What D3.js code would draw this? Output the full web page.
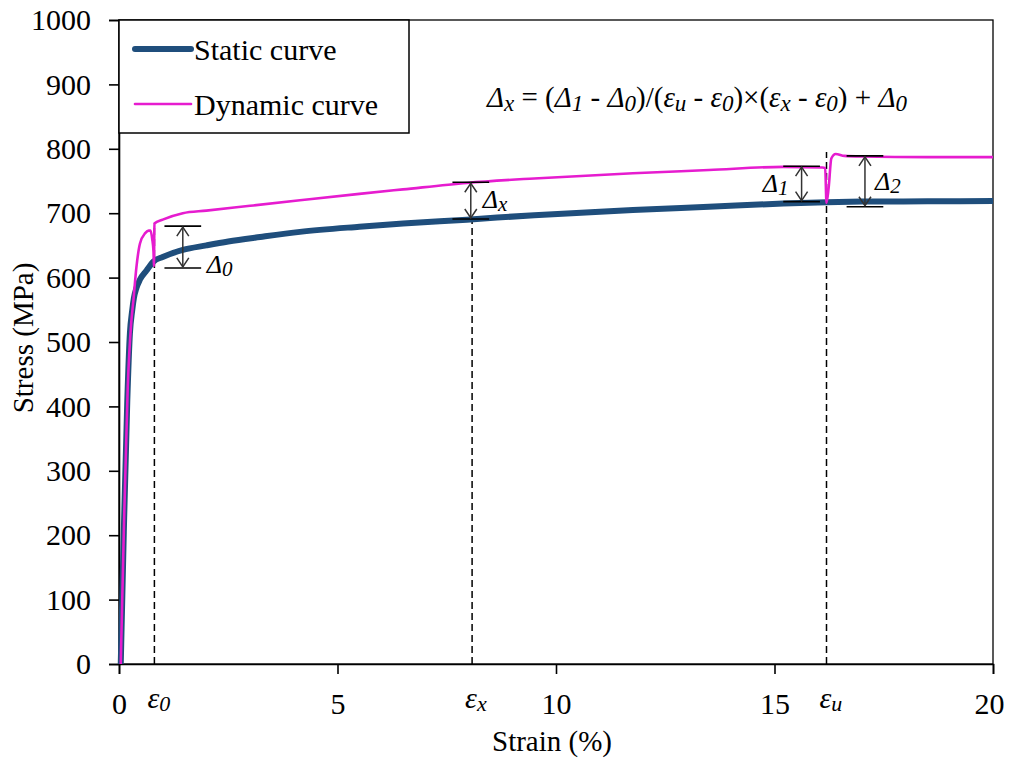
<!DOCTYPE html>
<html>
<head>
<meta charset="utf-8">
<script src="https://cdn.jsdelivr.net/npm/d3@7"></script>
<style>
  html, body { margin: 0; padding: 0; background: #fff; }
  svg { display: block; }
  text { font-family: "Liberation Serif", Tinos, "Times New Roman", Times, "DejaVu Serif", serif; fill: #000; }
</style>
</head>
<body>
<svg id="chart" width="1012" height="760"></svg>
<script>
// ---- data ----
const staticStrain = [0.04, 0.11, 0.19, 0.25, 0.30, 0.34, 0.40, 0.48, 0.63, 0.79, 1.0, 1.46, 2.0, 2.5, 3.23, 4.14, 5.5, 6.5, 7.96, 9.5, 11.76, 13.5, 15.2, 16.19, 17.0, 18.5, 20];
const staticStress = [0, 205, 410, 514, 548, 568, 584, 597, 611, 625, 632, 643, 650, 656, 663, 671, 679, 684, 690, 697, 705, 710, 715, 717, 718, 718.5, 719];

const dynamicStrain = [0.04, 0.11, 0.2, 0.28, 0.33, 0.40, 0.48, 0.6, 0.68, 0.72, 0.76, 0.79, 0.80, 0.81, 1.0, 1.46, 2.0, 3.0, 4.14, 5.5, 6.5, 7.96, 9.5, 11.76, 13.5, 15.2, 16.1, 16.16, 16.19, 16.24, 16.3, 16.4, 16.6, 17.0, 18.5, 20];
const dynamicStress = [0, 205, 430, 530, 565, 617, 653, 669, 673, 673, 660, 640, 618, 684, 690, 700, 704, 711.5, 720, 730, 737, 747, 754, 762, 767, 772, 771, 770, 716, 740, 785, 792, 789, 788, 787, 787];

const xTicks = [0, 5, 10, 15, 20];
const yTicks = [0, 100, 200, 300, 400, 500, 600, 700, 800, 900, 1000];

const seriesNames = ["Static curve", "Dynamic curve"];

// reference strains (dashed lines) and their labels
const refStrain = [0.81, 8.08, 16.19];
const refTop = [684, 691, 795];
const refSub = ["0", "x", "u"];

// Δ annotations
const deltaStrain = [1.46, 8.05, 15.62, 17.07];
const deltaTop = [680, 748, 773, 789];
const deltaBottom = [615, 691, 718, 710];
const deltaSub = ["0", "x", "1", "2"];

// ---- layout ----
const W = 1012, H = 760;
const margin = { left: 119, right: 19, top: 20, bottom: 96 };
const svg = d3.select("#chart");

const x = d3.scaleLinear().domain([0, 20]).range([margin.left, W - margin.right]);
const y = d3.scaleLinear().domain([0, 1000]).range([H - margin.bottom, margin.top]);

const blue = "#1f4e7c";
const magenta = "#e61ccf";
const serif = '"Liberation Serif", Tinos, "Times New Roman", Times, "DejaVu Serif", serif';

// plot frame (top/right)
svg.append("rect")
  .attr("x", x(0)).attr("y", y(1000))
  .attr("width", x(20) - x(0)).attr("height", y(0) - y(1000))
  .attr("fill", "none").attr("stroke", "#000").attr("stroke-width", 1.3);

// axes
const xAxis = svg.append("g")
  .attr("transform", `translate(0,${y(0)})`)
  .call(d3.axisBottom(x).tickValues(xTicks).tickSize(10).tickPadding(19).tickFormat(d3.format("d")));
const yAxis = svg.append("g")
  .attr("transform", `translate(${x(0)},0)`)
  .call(d3.axisLeft(y).tickValues(yTicks).tickSize(10).tickPadding(18).tickFormat(d3.format("d")));

[xAxis, yAxis].forEach(g => {
  g.attr("font-family", serif);
  g.select(".domain").attr("stroke", "#000").attr("stroke-width", 1.6);
  g.selectAll(".tick line").attr("stroke", "#000").attr("stroke-width", 1.6);
  g.selectAll(".tick text").attr("font-family", serif).attr("font-size", 30).attr("fill", "#000");
});
xAxis.selectAll(".tick text").attr("dy", "0.71em");
xAxis.selectAll(".tick text").filter(d => d === 20).attr("dx", -4);

// axis titles
svg.append("text")
  .attr("x", (x(0) + x(20)) / 2 - 4).attr("y", 751)
  .attr("text-anchor", "middle").attr("font-size", 29)
  .text("Strain (%)");
svg.append("text")
  .attr("transform", `translate(33,${(y(0) + y(1000)) / 2 - 4}) rotate(-90)`)
  .attr("text-anchor", "middle").attr("font-size", 29)
  .text("Stress (MPa)");

// dashed reference lines
svg.append("g").selectAll("line").data(refStrain).join("line")
  .attr("x1", d => x(d)).attr("x2", d => x(d))
  .attr("y1", y(0)).attr("y2", (d, i) => y(refTop[i]))
  .attr("stroke", "#000").attr("stroke-width", 1.5).attr("stroke-dasharray", "7,4");

// ε labels under the axis
const epsG = svg.append("g");
refStrain.forEach((s, i) => {
  const t = epsG.append("text")
    .attr("x", x(s) - 7).attr("y", 708)
    .attr("font-size", 30).attr("font-style", "italic");
  t.append("tspan").text("ε");
  t.append("tspan").attr("font-size", 22).attr("dy", 3).text(refSub[i]);
});

// curves
const line = d3.line().x(d => x(d[0])).y(d => y(d[1])).curve(d3.curveMonotoneX);
const staticData = d3.zip(staticStrain, staticStress);
const dynamicData = d3.zip(dynamicStrain, dynamicStress);

svg.append("path").datum(staticData)
  .attr("d", line).attr("fill", "none")
  .attr("stroke", blue).attr("stroke-width", 6).attr("stroke-linejoin", "round");
svg.append("path").datum(dynamicData)
  .attr("d", line).attr("fill", "none")
  .attr("stroke", magenta).attr("stroke-width", 2.6).attr("stroke-linejoin", "round");

// Δ annotations
const annG = svg.append("g");
const halfTick = 0.42;
const head = 6, headLen = 10;
deltaStrain.forEach((s, i) => {
  const cx = x(s), yt = y(deltaTop[i]), yb = y(deltaBottom[i]);
  annG.append("line").attr("x1", x(s - halfTick)).attr("x2", x(s + halfTick))
    .attr("y1", yt).attr("y2", yt).attr("stroke", "#000").attr("stroke-width", 1.6);
  annG.append("line").attr("x1", x(s - halfTick)).attr("x2", x(s + halfTick))
    .attr("y1", yb).attr("y2", yb).attr("stroke", "#000").attr("stroke-width", 1.6);
  annG.append("line").attr("x1", cx).attr("x2", cx)
    .attr("y1", yt + 1).attr("y2", yb - 1).attr("stroke", "#333").attr("stroke-width", 1.5);
  annG.append("path")
    .attr("d", `M${cx - head},${yt + headLen}L${cx},${yt + 1}L${cx + head},${yt + headLen}`)
    .attr("fill", "none").attr("stroke", "#333").attr("stroke-width", 1.5);
  annG.append("path")
    .attr("d", `M${cx - head},${yb - headLen}L${cx},${yb - 1}L${cx + head},${yb - headLen}`)
    .attr("fill", "none").attr("stroke", "#333").attr("stroke-width", 1.5);
});
const labelDx = [24, 12, -13, 10];
const labelAnchor = ["start", "start", "end", "start"];
const labelBase = [
  (t, b) => b + 5,
  (t, b) => (t + b) / 2 + 7,
  (t, b) => (t + b) / 2 + 8,
  (t, b) => (t + b) / 2 + 9
];
deltaStrain.forEach((s, i) => {
  const yt = y(deltaTop[i]), yb = y(deltaBottom[i]);
  const t = annG.append("text")
    .attr("x", x(s) + labelDx[i]).attr("y", labelBase[i](yt, yb))
    .attr("text-anchor", labelAnchor[i])
    .attr("font-size", 26).attr("font-style", "italic");
  t.append("tspan").text("Δ");
  t.append("tspan").attr("font-size", 21).attr("dy", 3).text(deltaSub[i]);
});

// formula
const formula = [
  ["Δ", 1, 0], ["x", 1, 1], [" = (", 0, 0], ["Δ", 1, 0], ["1", 1, 1], [" - ", 0, 0],
  ["Δ", 1, 0], ["0", 1, 1], [")/(", 0, 0], ["ε", 1, 0], ["u", 1, 1], [" - ", 0, 0],
  ["ε", 1, 0], ["0", 1, 1], [")×(", 0, 0], ["ε", 1, 0], ["x", 1, 1], [" - ", 0, 0],
  ["ε", 1, 0], ["0", 1, 1], [") + ", 0, 0], ["Δ", 1, 0], ["0", 1, 1]
];
const ft = svg.append("text").attr("x", 487).attr("y", 107).attr("font-size", 29);
let lowered = false;
formula.forEach(([txt, it, sub]) => {
  const sp = ft.append("tspan").text(txt).attr("font-style", it ? "italic" : "normal");
  if (sub) { sp.attr("font-size", 23); if (!lowered) { sp.attr("dy", 4); lowered = true; } }
  else if (lowered) { sp.attr("dy", -4); lowered = false; }
});

// legend
const lg = svg.append("g");
lg.append("rect").attr("x", x(0)).attr("y", y(1000))
  .attr("width", 290).attr("height", 113)
  .attr("fill", "#fff").attr("stroke", "#000").attr("stroke-width", 1.5);
const legY = [49, 104];
const legW = [6, 2.6];
const legC = [blue, magenta];
seriesNames.forEach((name, i) => {
  lg.append("line").attr("x1", x(0) + 16).attr("x2", x(0) + 72)
    .attr("y1", legY[i]).attr("y2", legY[i])
    .attr("stroke", legC[i]).attr("stroke-width", legW[i]).attr("stroke-linecap", "round");
  lg.append("text").attr("x", x(0) + 75).attr("y", legY[i] + 11)
    .attr("font-size", 30).text(name);
});
</script>
</body>
</html>
